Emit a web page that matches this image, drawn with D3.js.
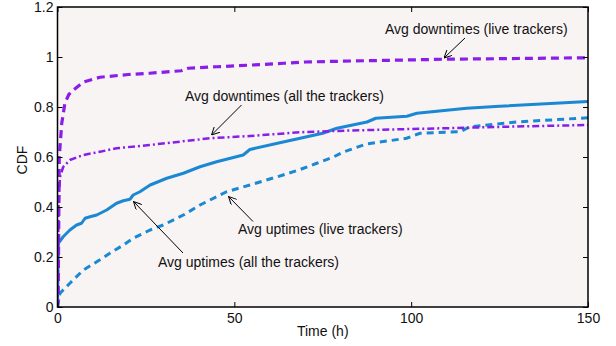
<!DOCTYPE html>
<html>
<head>
<meta charset="utf-8">
<script src="https://cdn.jsdelivr.net/npm/d3@7/dist/d3.min.js"></script>
<style>
  html, body { margin: 0; padding: 0; background: #ffffff; }
  svg { display: block; font-family: "Liberation Sans", Arial, sans-serif; }
</style>
</head>
<body>
<svg id="chart" width="616" height="346"></svg>
<script>
// Tick values
const xTicks = [0, 50, 100, 150];
const yTicks = [0, 0.2, 0.4, 0.6, 0.8, 1, 1.2];

// Avg downtimes (live trackers)
const downLiveT   = [0, 0.2, 0.5, 1.2, 2.1, 3.2, 4.5, 7.3, 12, 20, 26, 35, 37, 45, 55, 64, 70, 83, 95, 109, 130, 150];
const downLiveCdf = [0, 0.05, 0.6, 0.735, 0.815, 0.85, 0.868, 0.9, 0.919, 0.93, 0.935, 0.945, 0.955, 0.961, 0.968, 0.975, 0.98, 0.984, 0.987, 0.991, 0.994, 0.997];

// Avg downtimes (all the trackers)
const downAllT   = [0, 0.3, 0.7, 1.6, 3.5, 7.3, 12, 16.7, 26, 35, 43, 54.4, 68.6, 82.7, 100, 115.7, 130, 150];
const downAllCdf = [0, 0.4, 0.52, 0.56, 0.588, 0.608, 0.621, 0.635, 0.648, 0.662, 0.675, 0.684, 0.699, 0.706, 0.712, 0.717, 0.722, 0.728];

// Avg uptimes (all the trackers)
const upAllT   = [0, 0.24, 1.6, 3.5, 5.4, 6.8, 7.8, 9.2, 11.1, 13.9, 16.7, 18.6, 20.5, 21.4, 23.3, 26.2, 30.9, 35.6, 40.3, 45, 52.5, 54.4, 63.8, 68.6, 75, 79, 87.5, 90, 98.8, 101.6, 115.7, 125, 150];
const upAllCdf = [0, 0.255, 0.281, 0.308, 0.328, 0.335, 0.355, 0.361, 0.368, 0.388, 0.415, 0.425, 0.431, 0.448, 0.461, 0.488, 0.515, 0.535, 0.561, 0.581, 0.608, 0.63, 0.66, 0.675, 0.695, 0.715, 0.74, 0.755, 0.763, 0.775, 0.795, 0.803, 0.822];

// Avg uptimes (live trackers)
const upLiveT   = [0, 0.7, 3.5, 7.3, 11.1, 14.8, 18.6, 21.4, 26.2, 29.9, 35.6, 40.3, 47.8, 54.4, 63.8, 68.6, 73.3, 78, 80.8, 87.4, 98.7, 102.5, 113.8, 116.6, 129.8, 150];
const upLiveCdf = [0, 0.055, 0.095, 0.148, 0.181, 0.215, 0.248, 0.275, 0.308, 0.328, 0.368, 0.408, 0.461, 0.488, 0.528, 0.55, 0.575, 0.6, 0.62, 0.652, 0.675, 0.695, 0.701, 0.721, 0.74, 0.757];

const purple = "#8a1ee8";
const blue = "#1a88d2";

const svg = d3.select("#chart");
const margin = { left: 57.5, right: 28, top: 7, bottom: 39 };
const W = 616, H = 346;
const x = d3.scaleLinear().domain([0, 150]).range([margin.left, W - margin.right]);
const y = d3.scaleLinear().domain([0, 1.2]).range([H - margin.bottom, margin.top]);

// Plot background
svg.append("rect")
  .attr("x", x(0)).attr("y", y(1.2))
  .attr("width", x(150) - x(0)).attr("height", y(0) - y(1.2))
  .attr("fill", "#f9f4f4");

svg.append("clipPath").attr("id", "plotClip")
  .append("rect")
  .attr("x", x(0)).attr("y", y(1.2) - 2)
  .attr("width", x(150) - x(0) + 2).attr("height", y(0) - y(1.2) + 2);

const line = d3.line().x(d => x(d[0])).y(d => y(d[1]));
const zip = (a, b) => a.map((v, i) => [v, b[i]]);

const series = [
  { t: upLiveT, v: upLiveCdf, color: blue, width: 3, dash: "7,5" },
  { t: upAllT, v: upAllCdf, color: blue, width: 3, dash: null },
  { t: downAllT, v: downAllCdf, color: purple, width: 2.5, dash: "7,3,2,3" },
  { t: downLiveT, v: downLiveCdf, color: purple, width: 3.2, dash: "8,5" }
];

const g = svg.append("g").attr("clip-path", "url(#plotClip)");
series.forEach(s => {
  g.append("path")
    .datum(zip(s.t, s.v))
    .attr("d", line)
    .attr("fill", "none")
    .attr("stroke", s.color)
    .attr("stroke-width", s.width)
    .attr("stroke-linejoin", "round")
    .attr("stroke-dasharray", s.dash);
});

// Axes with inward ticks on all four sides
const tickLen = 5;
const fontSize = 14;
const axB = svg.append("g").attr("transform", `translate(0,${y(0)})`)
  .call(d3.axisBottom(x).tickValues(xTicks).tickSizeInner(-tickLen).tickSizeOuter(0).tickPadding(6).tickFormat(d3.format("d")));
const axT = svg.append("g").attr("transform", `translate(0,${y(1.2)})`)
  .call(d3.axisTop(x).tickValues(xTicks).tickSizeInner(-tickLen).tickSizeOuter(0).tickFormat(""));
const axL = svg.append("g").attr("transform", `translate(${x(0)},0)`)
  .call(d3.axisLeft(y).tickValues(yTicks).tickSizeInner(-tickLen).tickSizeOuter(0).tickPadding(4).tickFormat(d => d3.format("")(+d.toFixed(1))));
const axR = svg.append("g").attr("transform", `translate(${x(150)},0)`)
  .call(d3.axisRight(y).tickValues(yTicks).tickSizeInner(-tickLen).tickSizeOuter(0).tickFormat(""));

[axB, axT, axL, axR].forEach(a => {
  a.select(".domain").remove();
  a.selectAll(".tick line").attr("stroke", "#000").attr("stroke-width", 1);
  a.selectAll("text").attr("font-size", fontSize).attr("fill", "#111").attr("font-family", "Liberation Sans, Arial, sans-serif");
});
axB.selectAll("text").attr("dy", "0.71em");

// Frame
svg.append("rect")
  .attr("x", x(0)).attr("y", y(1.2))
  .attr("width", x(150) - x(0)).attr("height", y(0) - y(1.2))
  .attr("fill", "none").attr("stroke", "#000").attr("stroke-width", 1.5);

// Axis titles
svg.append("text")
  .attr("x", (x(0) + x(150)) / 2).attr("y", 336)
  .attr("text-anchor", "middle").attr("font-size", 14).attr("fill", "#111")
  .text("Time (h)");
svg.append("text")
  .attr("transform", `translate(27,160) rotate(-90)`)
  .attr("text-anchor", "middle").attr("font-size", 14).attr("fill", "#111")
  .text("CDF");

// Annotations
svg.append("defs").append("marker")
  .attr("id", "arrowHead")
  .attr("viewBox", "0 0 10 10").attr("refX", 10).attr("refY", 5)
  .attr("markerWidth", 8).attr("markerHeight", 8).attr("markerUnits", "userSpaceOnUse")
  .attr("orient", "auto")
  .append("path").attr("d", "M0,0 L10,5 L0,10").attr("fill", "none").attr("stroke", "#000").attr("stroke-width", 1.2);

const notes = [
  { text: "Avg downtimes (live trackers)", tx: 385, ty: 34, from: [465, 38], to: [444, 58] },
  { text: "Avg downtimes (all the trackers)", tx: 185, ty: 101, from: [241.5, 105], to: [211.5, 135] },
  { text: "Avg uptimes (live trackers)", tx: 238, ty: 234, from: [253, 221.5], to: [228.5, 196.5] },
  { text: "Avg uptimes (all the trackers)", tx: 158, ty: 266.5, from: [183, 253], to: [133.5, 201.5] }
];
notes.forEach(n => {
  svg.append("line")
    .attr("x1", n.from[0]).attr("y1", n.from[1])
    .attr("x2", n.to[0]).attr("y2", n.to[1])
    .attr("stroke", "#000").attr("stroke-width", 1)
    .attr("marker-end", "url(#arrowHead)");
  svg.append("text")
    .attr("x", n.tx).attr("y", n.ty)
    .attr("font-size", 14).attr("fill", "#111")
    .text(n.text);
});
</script>
</body>
</html>
